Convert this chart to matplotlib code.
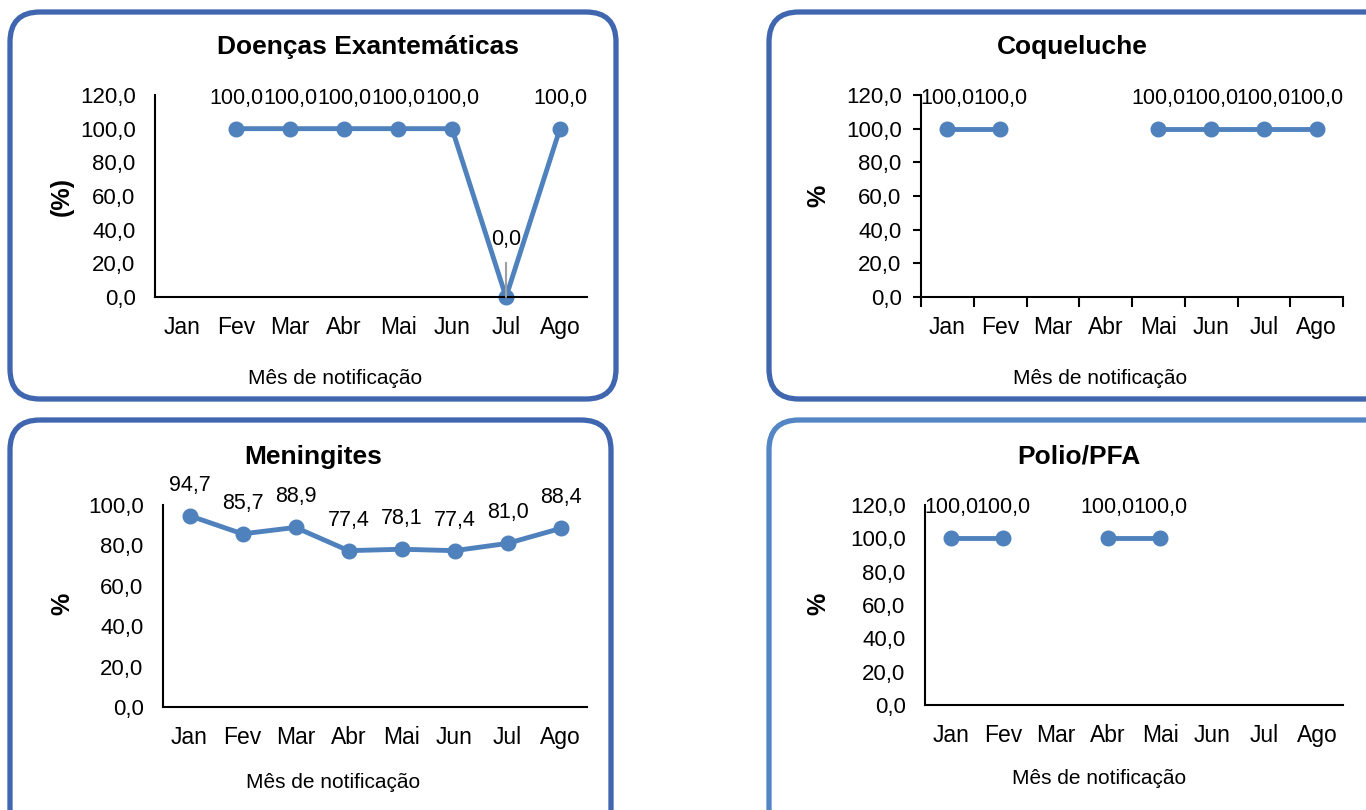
import numpy as np
import matplotlib
matplotlib.use("Agg")
import matplotlib.pyplot as plt
from matplotlib.patches import FancyBboxPatch
from matplotlib.ticker import FuncFormatter, MultipleLocator

plt.rcParams['font.family'] = ['Liberation Sans', 'DejaVu Sans']

# Dados
meses = ["Jan", "Fev", "Mar", "Abr", "Mai", "Jun", "Jul", "Ago"]
exantematicas = [np.nan, 100.0, 100.0, 100.0, 100.0, 100.0, 0.0, 100.0]
coqueluche = [100.0, 100.0, np.nan, np.nan, 100.0, 100.0, 100.0, 100.0]
meningites = [94.7, 85.7, 88.9, 77.4, 78.1, 77.4, 81.0, 88.4]
polio = [100.0, 100.0, np.nan, 100.0, 100.0, np.nan, np.nan, np.nan]

W, H = 1366, 810
cor_linha = '#4F81BD'
fmt = FuncFormatter(lambda v, p: f"{v:.1f}".replace('.', ','))

fig = plt.figure(figsize=(W / 100, H / 100), dpi=100)

# camada de fundo em pixels para as molduras arredondadas
bg = fig.add_axes([0, 0, 1, 1], zorder=0)
bg.set_xlim(0, W)
bg.set_ylim(H, 0)
bg.axis('off')
molduras = [
    (10, 12, 606, 387, '#3F66AF'),
    (769, 12, 640, 387, '#3F66AF'),
    (10, 420, 601, 420, '#3F66AF'),
    (769, 420, 640, 420, '#5485C5'),
]
for x0, y0, w, h, c in molduras:
    bg.add_patch(FancyBboxPatch((x0, y0), w, h, boxstyle="round,pad=0,rounding_size=30",
                                fill=False, edgecolor=c, linewidth=3.8))


def eixo(left, top, right, bottom):
    return fig.add_axes([left / W, 1 - bottom / H, (right - left) / W, (bottom - top) / H], zorder=1)


def desenha(ax, valores, ymax, ticks=False):
    x = np.arange(len(meses))
    ax.plot(x, valores, color=cor_linha, linewidth=3.5, marker='o', markersize=10.5, clip_on=False)
    ax.set_xlim(-0.5, len(meses) - 0.5)
    ax.set_ylim(0, ymax)
    ax.yaxis.set_major_locator(MultipleLocator(20))
    ax.yaxis.set_major_formatter(fmt)
    ax.set_xticks(x)
    ax.set_xticklabels(meses)
    for s in ['top', 'right']:
        ax.spines[s].set_visible(False)
    for s in ['left', 'bottom']:
        ax.spines[s].set_linewidth(1.5)
    ax.tick_params(axis='y', labelsize=16)
    ax.tick_params(axis='x', labelsize=16.5, length=0, pad=14)
    if ticks:
        ax.set_xticks(np.arange(-0.5, len(meses)), minor=True)
        ax.tick_params(axis='x', which='minor', length=7, width=1.5, direction='out')
        ax.tick_params(axis='y', length=6, width=1.5, direction='out', pad=8)
    else:
        ax.tick_params(axis='y', length=0, pad=14)
    ax.patch.set_alpha(0)


def rotulos(ax, valores, dy=22, pular=()):
    for i, v in enumerate(valores):
        if np.isnan(v) or i in pular:
            continue
        ax.annotate(f"{v:.1f}".replace('.', ','), (i, v), xytext=(0, dy), textcoords='offset points',
                    ha='center', va='center', fontsize=15.5, annotation_clip=False)


# Doenças Exantemáticas
ax1 = eixo(155, 95, 587, 297)
desenha(ax1, exantematicas, 120)
rotulos(ax1, exantematicas, pular=(6,))
ax1.annotate("0,0", (6, 0), xytext=(6, 34), textcoords='data', ha='center', va='center', fontsize=15.5,
             arrowprops=dict(arrowstyle='-', color='#A0A0A0', lw=1.5, shrinkA=7, shrinkB=0))
fig.text(368 / W, 1 - 47 / H, "Doenças Exantemáticas", ha='center', va='center', fontsize=19, fontweight='bold')
fig.text(62 / W, 1 - 196 / H, "(%)", ha='center', va='center', rotation=90, fontsize=18, fontweight='bold')
fig.text(335 / W, 1 - 379 / H, "Mês de notificação", ha='center', va='center', fontsize=15)

# Coqueluche
ax2 = eixo(921, 95, 1343, 297)
desenha(ax2, coqueluche, 120, ticks=True)
rotulos(ax2, coqueluche)
fig.text(1072 / W, 1 - 47 / H, "Coqueluche", ha='center', va='center', fontsize=19, fontweight='bold')
fig.text(818 / W, 1 - 196 / H, "%", ha='center', va='center', rotation=90, fontsize=18, fontweight='bold')
fig.text(1100 / W, 1 - 379 / H, "Mês de notificação", ha='center', va='center', fontsize=15)

# Meningites
ax3 = eixo(163, 505, 587, 707)
desenha(ax3, meningites, 100)
rotulos(ax3, meningites)
fig.text(313 / W, 1 - 457 / H, "Meningites", ha='center', va='center', fontsize=19, fontweight='bold')
fig.text(62 / W, 1 - 604 / H, "%", ha='center', va='center', rotation=90, fontsize=18, fontweight='bold')
fig.text(333 / W, 1 - 783 / H, "Mês de notificação", ha='center', va='center', fontsize=15)

# Polio/PFA
ax4 = eixo(925, 505, 1343, 705)
desenha(ax4, polio, 120)
rotulos(ax4, polio)
fig.text(1079 / W, 1 - 457 / H, "Polio/PFA", ha='center', va='center', fontsize=19, fontweight='bold')
fig.text(818 / W, 1 - 604 / H, "%", ha='center', va='center', rotation=90, fontsize=18, fontweight='bold')
fig.text(1099 / W, 1 - 779 / H, "Mês de notificação", ha='center', va='center', fontsize=15)

fig.savefig("out.png", dpi=100)
